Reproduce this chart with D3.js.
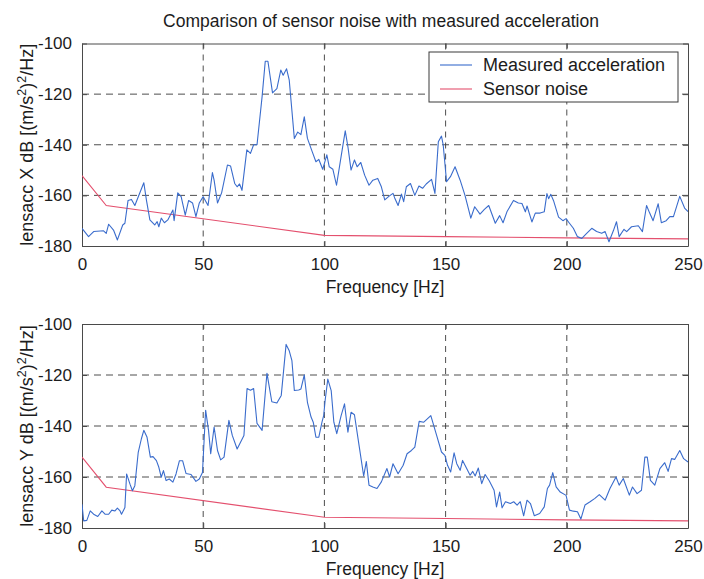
<!DOCTYPE html>
<html>
<head>
<meta charset="utf-8">
<script src="https://cdn.jsdelivr.net/npm/d3@7"></script>
<style>
  html, body { margin: 0; padding: 0; background: #fff; }
  svg { display: block; font-family: "Liberation Sans", Arial, Helvetica, sans-serif; }
</style>
</head>
<body>
<svg id="chart" width="704" height="579"></svg>
<script>
// Frequency axis ticks and dB axis ticks
const freqTicks = [0, 50, 100, 150, 200, 250];
const dbTicks = [-180, -160, -140, -120, -100];

// Measured acceleration, X axis (frequency in Hz, PSD in dB)
const freqX = [0,2.7,4.8,8.9,10,11,13,14.6,16.8,17.7,19,20.4,21.8,25.5,26.6,28,30,31,31.7,32.7,34,35.4,37.5,38,39.5,40.9,42.6,44,45.6,47,48.4,50,52,53.8,54.5,55.9,57.6,60,61.3,63,64,65,66,68,69.5,70.8,72.2,74.3,75.6,76.7,78.6,80.4,82,83,84.4,85.5,87.6,89,90.3,91.7,93,95,96.5,97.7,99.3,101,102,103.5,105,107,108.6,109.7,111,112.4,113.5,115,116.6,118.4,120,122,123.5,124.9,126.7,128.3,129,130.4,131.8,132.7,133.8,135.5,137.3,139,140.5,142,144.2,145.6,147,148.3,149,150.4,152,153.9,156,158,160.4,162,164.2,166,167.8,170.5,172.3,173.7,175.3,178,180,181.5,182.9,183.6,185.6,187,189,190.7,191.8,192.5,193.4,194.5,196.6,198.4,199.7,200.7,202.7,204.4,206.2,208.2,210.3,212.3,214.4,215.8,217.4,219.2,220.5,221.6,223.6,224.7,226.7,229.5,231.2,232.9,234.2,235.6,237.7,239,241,242.5,244,246.6,248.6,250];
const accX = [-173,-176.3,-174.3,-174,-175,-171.4,-173.7,-177.6,-171.7,-171,-162,-161.6,-164,-155,-162,-169.7,-171.7,-170.4,-172.4,-169,-170.8,-169.7,-165.8,-170,-159,-160.5,-167.8,-162,-163,-168.4,-163,-160.5,-164,-151,-154,-163,-159,-148,-148.4,-155.3,-156.6,-155.5,-158,-142,-143.4,-140,-140,-121,-107,-107,-119.5,-117.8,-110.5,-112.5,-110,-114.5,-137.5,-135,-136,-129,-137.5,-142.8,-146.7,-145.8,-149.7,-144,-148.7,-149.7,-156,-144,-134.5,-140.8,-150,-146,-148.7,-147,-152,-156,-154,-153.3,-156.6,-161.8,-160.3,-159.2,-161,-164,-159.5,-162.5,-156.6,-155.3,-160,-156.3,-157.2,-155.5,-153.7,-159.2,-138.8,-136.6,-140,-154.6,-152.6,-148.7,-154,-160,-169,-164.5,-167.4,-165.5,-164,-171,-168,-170.8,-166.5,-162,-163,-163.2,-166.5,-164.2,-170.5,-167,-167,-166.5,-159.3,-161.3,-159.6,-162,-168.6,-170,-169.2,-170.5,-173,-176.3,-177,-175,-173,-174.3,-175,-174.3,-178.3,-174,-170.4,-176.3,-173.4,-174.3,-172.4,-172,-174.3,-164,-167,-170,-163.3,-170.8,-170,-168.4,-168.4,-160.4,-165,-166.4];

// Measured acceleration, Y axis
const freqY = [0,0.7,2,3.4,4.8,6.5,8.2,9.5,11,12.3,13.6,14.6,15.7,16.3,17.7,18.4,19.8,20.8,21.8,23.2,24.5,25.5,26.8,28.2,29.3,30.7,31.7,32.7,33.6,34.7,36,37.5,38.8,40.2,41.5,42.9,45,47,48.4,49.7,51,52.2,53.1,54.5,55.9,57.2,58.6,60.6,62,64,66.8,68.1,69.5,70.8,72.2,74.3,76.3,78.3,80.4,82.2,84.2,85.5,86.6,87.6,89.4,90.3,91.7,93,94.5,95.4,96.5,97.7,99,99.7,100.3,101.4,102.8,103.9,105.1,106.9,108.3,109.7,111,112.4,114.5,116.2,117.3,118.4,120,121.7,123.5,125.8,126.9,128.3,130.4,132.5,134.1,135.9,137.3,139.1,141,143.9,146.3,148.3,149.7,150.8,152.1,153.5,154.6,156,157,158.7,160.1,161.2,162.2,163.5,164.9,166.3,168,170,171,172.3,173.3,174.7,176.7,178.1,179.5,180.8,182.2,183.6,185,186.6,188.8,190.7,192,192.9,194.2,195.6,197.3,199.7,201.1,202.7,204.4,205.8,207.5,209.6,211.6,213.4,215.8,217.8,220.3,221.6,223.3,225.8,227.1,229,230.8,232.2,233.2,234.5,236.3,238.4,240.4,241.8,243.2,244.5,246.6,248.2,250];
const accY = [-170.7,-177.2,-177,-173.3,-174.6,-175.5,-173.3,-174.6,-174.6,-173,-173.3,-172.2,-173.3,-174.6,-172,-158.8,-162.8,-165.4,-163.4,-150.3,-145,-141.7,-144.3,-152.2,-152,-153.6,-156.2,-160.1,-157.5,-161.4,-160.8,-162,-158.8,-153.6,-153.6,-158.6,-159,-161.7,-160.8,-158.2,-133.8,-141.7,-150.9,-140.4,-149.6,-153.3,-152.2,-137.8,-143.7,-149,-143.7,-125.3,-126,-125.3,-139,-141.7,-119.3,-130.5,-131,-128,-108,-110.5,-114.4,-126.1,-125.9,-125.5,-120,-130.7,-136.5,-138.5,-144.4,-144.4,-138.5,-135.9,-130,-121.6,-126.1,-138.5,-143,-135.9,-131.3,-142.4,-134.6,-135.6,-148.9,-159.6,-153.9,-163.2,-163.9,-164.5,-161.9,-156.7,-160,-154.8,-158.7,-155.4,-150.9,-149.6,-148.3,-138.2,-138.5,-135.9,-143.7,-150.2,-151.5,-155.4,-158,-150.5,-154.8,-157.4,-153.5,-156.7,-159.3,-157.8,-159.6,-156.5,-162.6,-159,-161.5,-165.2,-171.7,-165.9,-172.1,-169.7,-170.4,-169.7,-171,-169.7,-175.2,-169.1,-170.4,-175.2,-174.3,-171.7,-164.5,-163.2,-158.3,-163.9,-165.9,-167.2,-173,-173.4,-173.6,-176.5,-171,-169.7,-168.4,-166.9,-169.1,-164.5,-160,-163.2,-160.6,-167.1,-163.9,-166.5,-165.2,-152.2,-152.2,-161.3,-163.2,-156.7,-154.4,-157.8,-152.8,-153.1,-149.6,-152.8,-154.1];

// Sensor noise floor (same for both axes)
const noiseFreq = [0, 10, 100, 150, 200, 250];
const noiseDb = [-152.2, -164, -175.8, -176.3, -176.8, -177.2];

const panels = [
  { top: 43.5, bottom: 246, freq: freqX, acc: accX, axisName: "X", legend: true },
  { top: 324, bottom: 528, freq: freqY, acc: accY, axisName: "Y", legend: false }
];

const left = 82, right = 688;
const textColor = "#1c1c1c";
const blue = "#3a6ccc";
const red = "#e4506e";
const fontStack = "'Liberation Sans', Arial, Helvetica, sans-serif";

const svg = d3.select("#chart");

svg.append("text")
  .attr("x", (left + right) / 2 - 4)
  .attr("y", 27)
  .attr("text-anchor", "middle")
  .attr("font-size", 17.5)
  .attr("fill", textColor)
  .text("Comparison of sensor noise with measured acceleration");

const x = d3.scaleLinear().domain([0, 250]).range([left, right]);
// plain ASCII hyphen for negative numbers
const plainFormat = d => String(d);

panels.forEach(p => {
  const y = d3.scaleLinear().domain([-180, -100]).range([p.bottom, p.top]);
  const g = svg.append("g");

  // dashed grid
  g.append("g").selectAll("line").data(dbTicks.slice(1, -1)).join("line")
    .attr("x1", left).attr("x2", right)
    .attr("y1", d => y(d)).attr("y2", d => y(d))
    .attr("stroke", "#3a3a3a").attr("stroke-width", 0.9)
    .attr("stroke-dasharray", "7,5");
  g.append("g").selectAll("line").data(freqTicks.slice(1, -1)).join("line")
    .attr("y1", p.top).attr("y2", p.bottom)
    .attr("x1", d => x(d)).attr("x2", d => x(d))
    .attr("stroke", "#3a3a3a").attr("stroke-width", 0.9)
    .attr("stroke-dasharray", "6,5");

  // axes: left and bottom with labels, top and right mirrored without labels
  const axB = d3.axisBottom(x).tickValues(freqTicks).tickSizeInner(-5).tickSizeOuter(0).tickPadding(12).tickFormat(plainFormat);
  const axT = d3.axisTop(x).tickValues(freqTicks).tickSizeInner(-5).tickSizeOuter(0).tickFormat("");
  const axL = d3.axisLeft(y).tickValues(dbTicks).tickSizeInner(-5).tickSizeOuter(0).tickPadding(10).tickFormat(plainFormat);
  const axR = d3.axisRight(y).tickValues(dbTicks).tickSizeInner(-5).tickSizeOuter(0).tickFormat("");

  const styleAxis = sel => {
    sel.select(".domain").attr("stroke", "#4a4a4a").attr("stroke-width", 1);
    sel.selectAll(".tick line").attr("stroke", "#4a4a4a");
    sel.selectAll(".tick text").attr("fill", textColor).attr("font-size", 17)
      .attr("font-family", fontStack);
  };
  g.append("g").attr("transform", `translate(0,${p.bottom})`).call(axB).call(styleAxis);
  g.append("g").attr("transform", `translate(0,${p.top})`).call(axT).call(styleAxis);
  g.append("g").attr("transform", `translate(${left},0)`).call(axL).call(styleAxis);
  g.append("g").attr("transform", `translate(${right},0)`).call(axR).call(styleAxis);

  // x-axis label
  g.append("text")
    .attr("x", (left + right) / 2).attr("y", p.bottom + 47)
    .attr("text-anchor", "middle").attr("font-size", 17.5).attr("fill", textColor)
    .text("Frequency [Hz]");

  // y-axis label with superscripts
  const yl = g.append("text")
    .attr("transform", `translate(33,${(p.top + p.bottom) / 2}) rotate(-90)`)
    .attr("text-anchor", "middle").attr("font-size", 18).attr("fill", textColor);
  yl.append("tspan").text(`lensacc ${p.axisName} dB [(m/s`);
  yl.append("tspan").attr("baseline-shift", "super").attr("font-size", 12.5).text("2");
  yl.append("tspan").text(")");
  yl.append("tspan").attr("baseline-shift", "super").attr("font-size", 12.5).text("2");
  yl.append("tspan").text("/Hz]");

  // series, clipped to the plot box
  const clipId = `clip-${p.axisName}`;
  svg.append("clipPath").attr("id", clipId).append("rect")
    .attr("x", left).attr("y", p.top).attr("width", right - left).attr("height", p.bottom - p.top);

  const line = d3.line().x(d => x(d[0])).y(d => y(d[1]));
  g.append("path")
    .datum(noiseFreq.map((f, i) => [f, noiseDb[i]]))
    .attr("d", line).attr("fill", "none").attr("stroke", red).attr("stroke-width", 1.1)
    .attr("clip-path", `url(#${clipId})`);
  g.append("path")
    .datum(p.freq.map((f, i) => [f, p.acc[i]]))
    .attr("d", line).attr("fill", "none").attr("stroke", blue).attr("stroke-width", 1.1)
    .attr("stroke-linejoin", "round")
    .attr("clip-path", `url(#${clipId})`);

  if (p.legend) {
    const lg = g.append("g");
    lg.append("rect").attr("x", 429).attr("y", 52).attr("width", 249).attr("height", 50)
      .attr("fill", "#fff").attr("stroke", "#3a3a3a").attr("stroke-width", 1);
    const items = [["Measured acceleration", blue], ["Sensor noise", red]];
    items.forEach(([label, color], i) => {
      const cy = 65 + i * 24;
      lg.append("line").attr("x1", 440).attr("x2", 472).attr("y1", cy).attr("y2", cy)
        .attr("stroke", color).attr("stroke-width", 1.1);
      lg.append("text").attr("x", 483).attr("y", cy).attr("dy", "0.35em")
        .attr("font-size", 18).attr("fill", textColor).text(label);
    });
  }
});
</script>
</body>
</html>
